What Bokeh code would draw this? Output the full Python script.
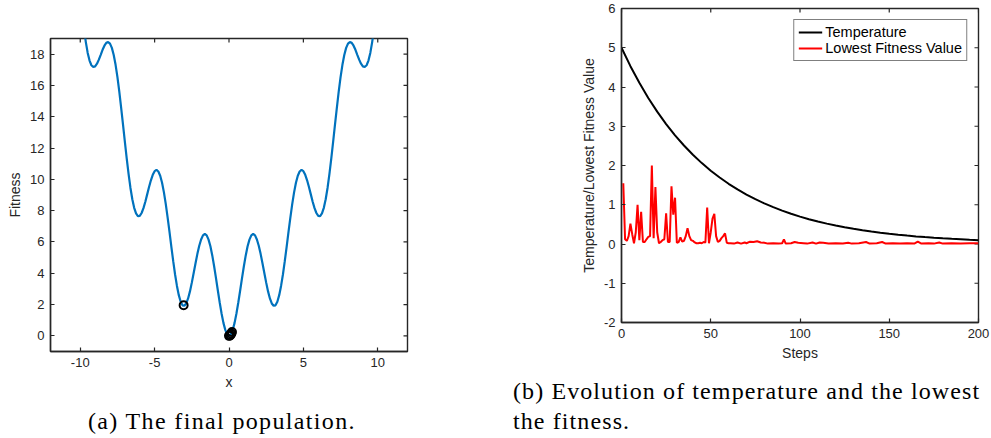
import math
from bokeh.plotting import figure
from bokeh.models import Range1d, FixedTicker, Div, Legend, LegendItem
from bokeh.layouts import row, column
from bokeh.embed import file_html
from bokeh.resources import INLINE

# ---------------- data: panel (a) ----------------
x_curve = [-10.0, -9.875, -9.75, -9.625, -9.5, -9.375, -9.25, -9.125, -9.0, -8.875,
           -8.75, -8.625, -8.5, -8.375, -8.25, -8.125, -8.0, -7.875, -7.75, -7.625,
           -7.5, -7.375, -7.25, -7.125, -7.0, -6.875, -6.75, -6.625, -6.5, -6.375,
           -6.25, -6.125, -6.0, -5.875, -5.75, -5.625, -5.5, -5.375, -5.25, -5.125,
           -5.0, -4.875, -4.75, -4.625, -4.5, -4.375, -4.25, -4.125, -4.0, -3.875,
           -3.75, -3.625, -3.5, -3.375, -3.25, -3.125, -3.0, -2.875, -2.75, -2.625,
           -2.5, -2.375, -2.25, -2.125, -2.0, -1.875, -1.75, -1.625, -1.5, -1.375,
           -1.25, -1.125, -1.0, -0.875, -0.75, -0.625, -0.5, -0.375, -0.25, -0.125,
           0.0, 0.125, 0.25, 0.375, 0.5, 0.625, 0.75, 0.875, 1.0, 1.125,
           1.25, 1.375, 1.5, 1.625, 1.75, 1.875, 2.0, 2.125, 2.25, 2.375,
           2.5, 2.625, 2.75, 2.875, 3.0, 3.125, 3.25, 3.375, 3.5, 3.625,
           3.75, 3.875, 4.0, 4.125, 4.25, 4.375, 4.5, 4.625, 4.75, 4.875,
           5.0, 5.125, 5.25, 5.375, 5.5, 5.625, 5.75, 5.875, 6.0, 6.125,
           6.25, 6.375, 6.5, 6.625, 6.75, 6.875, 7.0, 7.125, 7.25, 7.375,
           7.5, 7.625, 7.75, 7.875, 8.0, 8.125, 8.25, 8.375, 8.5, 8.625,
           8.75, 8.875, 9.0, 9.125, 9.25, 9.375, 9.5, 9.625, 9.75, 9.875, 10.0]
fitness_curve = [21.78, 20.64, 19.63, 18.77, 18.08, 17.59, 17.29, 17.18, 17.22, 17.39,
                 17.65, 17.96, 18.28, 18.54, 18.72, 18.77, 18.67, 18.40, 17.95, 17.32,
                 16.53, 15.60, 14.57, 13.49, 12.39, 11.32, 10.33, 9.45, 8.73, 8.18,
                 7.82, 7.65, 7.67, 7.85, 8.16, 8.57, 9.04, 9.51, 9.94, 10.29,
                 10.52, 10.60, 10.50, 10.23, 9.78, 9.17, 8.42, 7.56, 6.64, 5.69,
                 4.77, 3.92, 3.19, 2.60, 2.18, 1.95, 1.92, 2.07, 2.39, 2.84,
                 3.40, 4.02, 4.64, 5.24, 5.76, 6.16, 6.42, 6.51, 6.42, 6.15,
                 5.72, 5.14, 4.45, 3.69, 2.90, 2.13, 1.43, 0.83, 0.38, 0.10,
                 0.00, 0.10, 0.38, 0.83, 1.43, 2.13, 2.90, 3.69, 4.45, 5.14,
                 5.72, 6.15, 6.42, 6.51, 6.42, 6.16, 5.76, 5.24, 4.64, 4.02,
                 3.40, 2.84, 2.39, 2.07, 1.92, 1.95, 2.18, 2.60, 3.19, 3.92,
                 4.77, 5.69, 6.64, 7.56, 8.42, 9.17, 9.78, 10.23, 10.50, 10.60,
                 10.52, 10.29, 9.94, 9.51, 9.04, 8.57, 8.16, 7.85, 7.67, 7.65,
                 7.82, 8.18, 8.73, 9.45, 10.33, 11.32, 12.39, 13.49, 14.57, 15.60,
                 16.53, 17.32, 17.95, 18.40, 18.67, 18.77, 18.72, 18.54, 18.28, 17.96,
                 17.65, 17.39, 17.22, 17.18, 17.29, 17.59, 18.08, 18.77, 19.63, 20.64, 21.78]
pop_x = [-3.05, 0.0, 0.05, 0.1, 0.15, 0.2]
pop_y = [1.95, 0.0, 0.015, 0.06, 0.14, 0.24]
a_x_ticks = [-10, -5, 0, 5, 10]
a_y_ticks = [0, 2, 4, 6, 8, 10, 12, 14, 16, 18]
a_x_range = (-12, 12)
a_y_range = (-1, 19)

# ---------------- data: panel (b) ----------------
temp_steps = [0, 5, 10, 15, 20, 25, 30, 35, 40, 45, 50, 55, 60, 65, 70, 75, 80, 85, 90, 95,
              100, 105, 110, 115, 120, 125, 130, 135, 140, 145, 150, 155, 160, 165, 170,
              175, 180, 185, 190, 195, 200]
temperature = [5.000, 4.531, 4.106, 3.721, 3.372, 3.056, 2.769, 2.510, 2.274, 2.061,
               1.868, 1.693, 1.534, 1.390, 1.260, 1.142, 1.035, 0.938, 0.850, 0.770,
               0.698, 0.632, 0.573, 0.519, 0.471, 0.426, 0.387, 0.350, 0.317, 0.288,
               0.261, 0.236, 0.214, 0.194, 0.176, 0.159, 0.144, 0.131, 0.119, 0.107, 0.097]
low_steps = [1, 2, 3, 4, 5, 6, 7, 8, 9, 10, 11, 12, 13, 14, 15, 16, 17, 18, 19, 20,
             21, 22, 23, 24, 25, 26, 27, 28, 29, 30, 31, 32, 33, 34, 35, 36, 37, 38, 39, 40,
             41, 42, 43, 44, 45, 46, 47, 48, 49, 50, 51, 52, 53, 54, 55, 56, 57, 58, 59, 60,
             61, 63, 65, 67, 69, 70, 72, 74, 76, 78, 80, 82, 85, 88, 90, 91, 92, 95, 97, 99,
             102, 104, 107, 109, 111, 113, 116, 120, 124, 127, 129, 133, 137, 139, 143, 146,
             148, 152, 156, 160, 164, 166, 168, 172, 175, 178, 180, 185, 190, 195, 200]
low_values = [1.55, 0.12, 0.08, 0.20, 0.52, 0.25, 0.02, 0.30, 1.00, 0.10,
              0.82, 0.05, 0.05, 0.12, 0.18, 0.20, 2.00, 0.15, 1.45, 0.30,
              0.02, 0.05, 0.10, 0.12, 0.78, 0.05, 0.05, 1.47, 0.75, 1.18,
              0.03, 0.05, 0.17, 0.06, 0.08, 0.20, 0.40, 0.20, 0.10, 0.08,
              0.04, 0.02, 0.02, 0.03, 0.02, 0.05, 0.04, 0.93, 0.02, 0.30,
              0.65, 0.77, 0.20, 0.05, 0.08, 0.15, 0.20, 0.27, 0.03, 0.02,
              0.02, 0.01, 0.04, 0.01, 0.04, 0.02, 0.06, 0.05, 0.07, 0.04,
              0.03, 0.01, 0.02, 0.01, 0.02, 0.12, 0.01, 0.02, 0.05, 0.03,
              0.02, 0.01, 0.04, 0.01, 0.04, 0.03, 0.01, 0.02, 0.01, 0.03,
              0.01, 0.02, 0.05, 0.01, 0.02, 0.05, 0.01, 0.02, 0.01, 0.02,
              0.01, 0.06, 0.01, 0.02, 0.01, 0.04, 0.01, 0.02, 0.01, 0.02, 0.02]
b_x_ticks = [0, 50, 100, 150, 200]
b_y_ticks = [-2, -1, 0, 1, 2, 3, 4, 5, 6]
b_x_range = (0, 200)
b_y_range = (-2, 6)

FONT = "Liberation Sans"
AX = "#262626"


def style_axis(ax, ticks):
    ax.ticker = FixedTicker(ticks=ticks)
    ax.major_label_overrides = {t: str(t) for t in ticks}  # plain hyphen minus
    ax.axis_line_color = AX
    ax.axis_line_width = 1.4
    ax.major_tick_line_color = AX
    ax.major_tick_line_width = 1.2
    ax.major_tick_in = 4
    ax.major_tick_out = 0
    ax.minor_tick_line_color = None
    ax.major_label_text_font = FONT
    ax.major_label_text_font_size = "13px"
    ax.major_label_text_color = AX
    ax.major_label_standoff = 6
    ax.axis_label_text_font = FONT
    ax.axis_label_text_font_size = "14px"
    ax.axis_label_text_font_style = "normal"
    ax.axis_label_text_color = AX
    ax.axis_label_standoff = 4


def make_fig(w, h, xr, yr, xt, yt, xlabel, ylabel, ml, mr, mt, mb):
    p = figure(width=w, height=h, x_range=Range1d(*xr), y_range=Range1d(*yr),
               output_backend="svg", toolbar_location=None,
               min_border_left=ml, min_border_right=mr,
               min_border_top=mt, min_border_bottom=mb,
               x_axis_label=xlabel, y_axis_label=ylabel)
    p.xgrid.visible = False
    p.ygrid.visible = False
    p.outline_line_color = AX
    p.outline_line_width = 1.4
    p.background_fill_color = "white"
    p.border_fill_color = "white"
    for ax in p.xaxis:
        style_axis(ax, xt)
    for ax in p.yaxis:
        style_axis(ax, yt)
    # mirrored inward ticks on the top and right edges of the box
    p.scatter(xt, [yr[1]] * len(xt), marker="dash", size=8, angle=math.pi / 2,
              line_color=AX, line_width=1.2)
    p.scatter([xr[1]] * len(yt), yt, marker="dash", size=8,
              line_color=AX, line_width=1.2)
    return p


# ---------------- panel (a) ----------------
p1 = make_fig(512, 406, a_x_range, a_y_range, a_x_ticks, a_y_ticks, "x", "Fitness",
              50, 105, 38, 55)
p1.line(x_curve, fitness_curve, line_color="#0072BD", line_width=2.2)
p1.scatter(pop_x, pop_y, size=8, marker="circle", line_color="black",
           line_width=2, fill_alpha=0)

# ---------------- panel (b) ----------------
p2 = make_fig(479, 376, b_x_range, b_y_range, b_x_ticks, b_y_ticks, "Steps",
              "Temperature/Lowest Fitness Value", 109, 13, 8, 54)
r_t = p2.line(temp_steps, temperature, line_color="black", line_width=2)
r_l = p2.line(low_steps, low_values, line_color="#FF0000", line_width=2)
legend = Legend(items=[LegendItem(label="Temperature", renderers=[r_t]),
                       LegendItem(label="Lowest Fitness Value", renderers=[r_l])],
                location="top_right", margin=11, padding=4, spacing=0,
                glyph_width=24, glyph_height=16, label_height=16, label_standoff=3,
                label_text_font=FONT, label_text_font_size="14.5px",
                label_text_color="black", border_line_color="black",
                border_line_width=1.2, background_fill_color="white",
                background_fill_alpha=1.0)
p2.add_layout(legend)

CAP = ("font-family:'Liberation Serif',serif;font-size:24px;line-height:30px;"
       "white-space:nowrap;color:#000;")
div_a = Div(text=(f'<div style="{CAP}letter-spacing:1.35px;padding-left:88px;">'
                  '(a) The final population.</div>'),
            width=512, height=32, margin=(0, 0, 0, 0))
div_b = Div(text=(f'<div style="{CAP}letter-spacing:1.1px;padding-left:1px;">'
                  '(b) Evolution of temperature and the lowest<br>the fitness.</div>'),
            width=479, height=62, margin=(0, 0, 0, 0))

layout = row(column(p1, div_a), column(p2, div_b))

open("out.html", "w").write(file_html(layout, INLINE))
